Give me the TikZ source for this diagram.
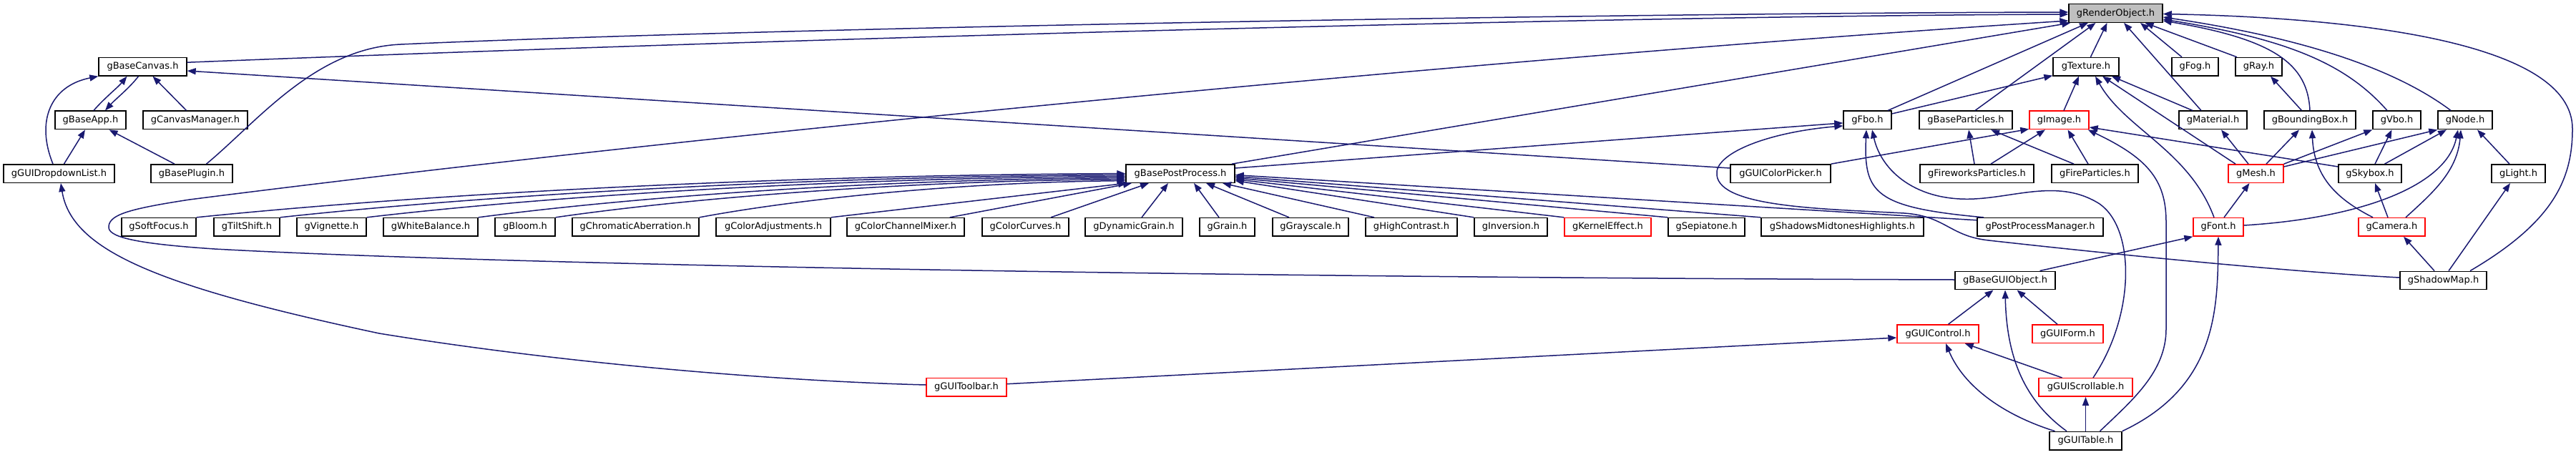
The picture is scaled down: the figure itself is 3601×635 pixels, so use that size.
\documentclass[tikz,border=0pt]{standalone}
\usepackage{fontspec}
\setmainfont{DejaVu Sans}
\usetikzlibrary{arrows.meta}
\definecolor{edgecol}{HTML}{191970}
\definecolor{redb}{HTML}{FF0000}
\definecolor{rootfill}{HTML}{BFBFBF}
\begin{document}
\begin{tikzpicture}[x=1pt,y=-1pt,
  box/.style={draw=black, line width=1.4pt, fill=white, minimum height=25.5pt, inner sep=0pt, font=\fontsize{13}{15}\selectfont},
  redbox/.style={box, draw=redb},
  edge/.style={draw=edgecol, line width=1.5pt, {Triangle[length=12pt,width=9pt]}-}]
\useasboundingbox (0,0) rectangle (3601,635);
% row 0
\node[box, fill=rootfill, minimum width=131pt] (RO) at (2957.5,18.5) {gRenderObject.h};
% row 1
\node[box, minimum width=123pt] (BC) at (199.5,93.2) {gBaseCanvas.h};
\node[box, minimum width=92pt] (TX) at (2916,93.2) {gTexture.h};
\node[box, minimum width=65pt] (FOG) at (3068.5,93.2) {gFog.h};
\node[box, minimum width=65pt] (RAY) at (3157.5,93.2) {gRay.h};
% row 2
\node[box, minimum width=99pt] (BA) at (126.5,167.9) {gBaseApp.h};
\node[box, minimum width=146pt] (CM) at (273,167.9) {gCanvasManager.h};
\node[box, minimum width=67pt] (FBO) at (2610.5,167.9) {gFbo.h};
\node[box, minimum width=130pt] (BP) at (2748,167.9) {gBaseParticles.h};
\node[redbox, minimum width=83pt] (IMG) at (2878.5,167.9) {gImage.h};
\node[box, minimum width=95pt] (MAT) at (3093.5,167.9) {gMaterial.h};
\node[box, minimum width=128pt] (BB) at (3229,167.9) {gBoundingBox.h};
\node[box, minimum width=67pt] (VBO) at (3350.5,167.9) {gVbo.h};
\node[box, minimum width=76pt] (NODE) at (3446,167.9) {gNode.h};
% row 3
\node[box, minimum width=155pt] (DD) at (82.5,242.6) {gGUIDropdownList.h};
\node[box, minimum width=114pt] (PL) at (268,242.6) {gBasePlugin.h};
\node[box, minimum width=152pt] (BPP) at (1650,242.6) {gBasePostProcess.h};
\node[box, minimum width=140pt] (CP) at (2489,242.6) {gGUIColorPicker.h};
\node[box, minimum width=159pt] (FWP) at (2763.5,242.6) {gFireworksParticles.h};
\node[box, minimum width=121pt] (FP) at (2928.5,242.6) {gFireParticles.h};
\node[redbox, minimum width=77pt] (MESH) at (3153.5,242.6) {gMesh.h};
\node[box, minimum width=88pt] (SKY) at (3313,242.6) {gSkybox.h};
\node[box, minimum width=75pt] (LIGHT) at (3520.5,242.6) {gLight.h};
% row 4
\node[box, minimum width=104pt] (SF) at (222,317.3) {gSoftFocus.h};
\node[box, minimum width=92pt] (TS) at (345,317.3) {gTiltShift.h};
\node[box, minimum width=97pt] (VIG) at (463.5,317.3) {gVignette.h};
\node[box, minimum width=132pt] (WB) at (602,317.3) {gWhiteBalance.h};
\node[box, minimum width=84pt] (BL) at (734,317.3) {gBloom.h};
\node[box, minimum width=177pt] (CA) at (888.5,317.3) {gChromaticAberration.h};
\node[box, minimum width=160pt] (CAD) at (1081,317.3) {gColorAdjustments.h};
\node[box, minimum width=164pt] (CCM) at (1266,317.3) {gColorChannelMixer.h};
\node[box, minimum width=121pt] (CC) at (1433.5,317.3) {gColorCurves.h};
\node[box, minimum width=136pt] (DG) at (1585,317.3) {gDynamicGrain.h};
\node[box, minimum width=77pt] (GR) at (1715.5,317.3) {gGrain.h};
\node[box, minimum width=106pt] (GS) at (1832,317.3) {gGrayscale.h};
\node[box, minimum width=128pt] (HC) at (1973,317.3) {gHighContrast.h};
\node[box, minimum width=102pt] (INV) at (2112,317.3) {gInversion.h};
\node[redbox, minimum width=121pt] (KE) at (2247.5,317.3) {gKernelEffect.h};
\node[box, minimum width=107pt] (SEP) at (2385.5,317.3) {gSepiatone.h};
\node[box, minimum width=227pt] (SMH) at (2575.5,317.3) {gShadowsMidtonesHighlights.h};
\node[box, minimum width=176pt] (PPM) at (2852,317.3) {gPostProcessManager.h};
\node[redbox, minimum width=70pt] (FONT) at (3101,317.3) {gFont.h};
\node[redbox, minimum width=93pt] (CAM) at (3343.5,317.3) {gCamera.h};
% row 5
\node[box, minimum width=140pt] (BGO) at (2803,392) {gBaseGUIObject.h};
\node[box, minimum width=121pt] (SM) at (3415.5,392) {gShadowMap.h};
% row 6
\node[redbox, minimum width=114pt] (GC) at (2709,466.7) {gGUIControl.h};
\node[redbox, minimum width=99pt] (GF) at (2890.5,466.7) {gGUIForm.h};
% row 7
\node[redbox, minimum width=112pt] (TB) at (1351,541.4) {gGUIToolbar.h};
\node[redbox, minimum width=131pt] (SCR) at (2915.5,541.4) {gGUIScrollable.h};
% row 8
\node[box, minimum width=101pt] (TAB) at (2915.5,616.1) {gGUITable.h};

% ---- edges into gRenderObject
\draw[edge] ([yshift=-1.5pt]RO.west) .. controls (2300,22) and (1200,50) .. ([yshift=6pt]BC.east);
\draw[edge] ([yshift=1.5pt]RO.west) .. controls (2300,18) and (1100,37.7) .. (560,62) .. controls (440,67.4) and (360,170) .. ([xshift=20.5pt]PL.north);
\draw[edge] ([yshift=3pt]RO.south west) .. controls (2100,80) and (1000,185) .. (265,279) .. controls (180,292) and (154,300) .. (152,316) .. controls (150,330) and (180,340) .. (300,348) .. controls (700,370) and (1700,388) .. ([yshift=1pt]BGO.west);
\draw[edge] ([xshift=3pt]RO.south west) -- ([xshift=72pt]BPP.north);
\draw[edge] ([xshift=-38.5pt]RO.south) -- ([xshift=28.5pt]FBO.north);
\draw[edge] ([xshift=-28pt]RO.south) -- ([xshift=13pt]BP.north);
\draw[edge] ([xshift=-12pt]RO.south) -- ([xshift=6.4pt]TX.north);
\draw[edge] ([xshift=11.5pt]RO.south) -- ([xshift=-16.5pt]MAT.north);
\draw[edge] ([xshift=34.5pt]RO.south) -- ([xshift=-18.5pt]FOG.north);
\draw[edge] ([xshift=41pt]RO.south) -- ([xshift=-30.5pt]RAY.north);
\draw[edge] ([yshift=3pt]RO.south east) .. controls (3180,55) and (3226,90) .. (BB.north);
\draw[edge] ([yshift=5pt]RO.south east) .. controls (3200,55) and (3280,90) .. ([xshift=-13.5pt]VBO.north);
\draw[edge] ([yshift=8pt]RO.south east) .. controls (3200,50) and (3340,90) .. ([xshift=-20pt]NODE.north);
\draw[edge] ([yshift=-1pt]RO.east) .. controls (3300,25) and (3596,60) .. (3596,180) .. controls (3596,250) and (3570,310) .. ([xshift=37.5pt]SM.north);

% ---- gBaseCanvas / gBaseApp
\draw[edge] ([xshift=-22pt]BC.south) .. controls (165,122) and (145,138) .. ([xshift=4.5pt]BA.north);
\draw[edge] ([xshift=20.5pt]BA.north) .. controls (160,140) and (182,122) .. ([xshift=-6pt]BC.south);
\draw[edge] ([xshift=14pt]BC.south) -- ([xshift=-12.4pt]CM.north);
\draw[edge] (BC.south west) .. controls (70,120) and (50,170) .. ([xshift=-8.5pt]DD.north);
\draw[edge] ([yshift=-5.8pt]BC.east) -- ([yshift=7.6pt]CP.west);
\draw[edge] ([xshift=-7.5pt]BA.south) -- ([xshift=7pt]DD.north);
\draw[edge] ([xshift=26pt]BA.south) -- ([xshift=-24pt]PL.north);
\draw[edge] ([xshift=2.5pt]DD.south) .. controls (100,350) and (220,400) .. (530,466) .. controls (800,510) and (1100,533) .. ([yshift=3.4pt]TB.west);
\draw[edge] ([yshift=-5.3pt]GC.west) -- ([yshift=4.7pt]TB.east);

% ---- gBasePostProcess
\draw[edge] (BPP.west) .. controls (1093,244.6) and (599,270.7) .. (SF.north east);
\draw[edge] ([yshift=-2pt]BPP.west) .. controls (1136,246.6) and (686.5,271.8) .. (TS.north east);
\draw[edge] ([yshift=-4pt]BPP.west) .. controls (1181,248.6) and (777.5,272.9) .. (VIG.north east);
\draw[edge] ([yshift=-6pt]BPP.west) .. controls (1239,250.6) and (894.5,274) .. (WB.north east);
\draw[edge] ([yshift=-8pt]BPP.west) .. controls (1279,252.6) and (975.5,275.1) .. (BL.north east);
\draw[edge] ([yshift=-10pt]BPP.west) .. controls (1353,254.6) and (1126,276.2) .. (CA.north east);
\draw[edge] ([xshift=2pt]BPP.south west) -- (CAD.north east);
\draw[edge] ([xshift=-68pt]BPP.south) -- ([xshift=61.7pt]CCM.north);
\draw[edge] ([xshift=-44pt]BPP.south) -- ([xshift=35.5pt]CC.north);
\draw[edge] ([xshift=-17pt]BPP.south) -- ([xshift=11pt]DG.north);
\draw[edge] ([xshift=19pt]BPP.south) -- ([xshift=-11.5pt]GR.north);
\draw[edge] ([xshift=36pt]BPP.south) -- ([xshift=-30pt]GS.north);
\draw[edge] ([xshift=59pt]BPP.south) -- ([xshift=-52pt]HC.north);
\draw[edge] ([yshift=-10pt]BPP.east) -- (INV.north west);
\draw[edge] ([yshift=-8pt]BPP.east) -- (KE.north west);
\draw[edge] ([yshift=-6pt]BPP.east) -- (SEP.north west);
\draw[edge] ([yshift=-4pt]BPP.east) -- (SMH.north west);
\draw[edge] ([yshift=-2pt]BPP.east) -- ([yshift=9.5pt]PPM.west);

% ---- gFbo
\draw[edge] ([yshift=-4pt]FBO.west) -- ([yshift=7.6pt]BPP.east);
\draw[edge] ([yshift=1pt]TX.south west) -- ([yshift=8.9pt]FBO.east);
\draw[edge] ([xshift=-1.5pt]FBO.south) .. controls (2605,270) and (2620,290) .. ([xshift=-79pt]PPM.north);
\draw[edge] ([xshift=6.5pt]FBO.south) .. controls (2630,240) and (2680,282) .. (2760,278) .. controls (2820,275) and (2880,250) .. (2935,285) .. controls (2985,320) and (2985,440) .. ([xshift=10.5pt]SCR.north);
\draw[edge] ([yshift=-8pt]FBO.west) .. controls (2470,185) and (2395,215) .. (2400,245) .. controls (2405,290) and (2550,292) .. (2662,298) .. controls (2720,302) and (2725,330) .. (2780,336) .. controls (2950,355) and (3200,380) .. ([yshift=4pt]SM.west);

% ---- gImage
\draw[edge] ([yshift=1pt]IMG.south west) -- (CP.north east);
\draw[edge] ([xshift=-10pt]TX.south) -- ([xshift=6.5pt]IMG.north);
\draw[edge] ([xshift=-19.5pt]IMG.south) -- ([xshift=19.5pt]FWP.north);
\draw[edge] ([xshift=12pt]IMG.south) -- ([xshift=-9.5pt]FP.north);
\draw[edge] ([yshift=-10pt]IMG.east) -- ([yshift=9.6pt]SKY.west);
\draw[edge] ([xshift=-2pt]IMG.south east) .. controls (3000,220) and (3028,250) .. (3028,310) -- (3028,460) .. controls (3028,520) and (2980,560) .. ([xshift=20pt]TAB.north);

% ---- gBaseParticles
\draw[edge] ([xshift=4pt]BP.south) -- ([xshift=-3.5pt]FWP.north);
\draw[edge] ([xshift=35pt]BP.south) -- ([xshift=-29.5pt]FP.north);

% ---- gTexture
\draw[edge] ([xshift=13pt]TX.south) .. controls (2970,180) and (3060,210) .. ([xshift=-6pt]FONT.north);
\draw[edge] ([xshift=23pt]TX.south) -- ([xshift=-28.5pt]MESH.north);
\draw[edge] ([xshift=36pt]TX.south) -- ([xshift=-28.5pt]MAT.north);

% ---- right part
\draw[edge] ([xshift=11.5pt]MAT.south) -- ([xshift=-10.5pt]MESH.north);
\draw[edge] ([xshift=-15pt]BB.south) -- ([xshift=14.5pt]MESH.north);
\draw[edge] ([xshift=3pt]BB.south) .. controls (3235,250) and (3270,280) .. ([xshift=-26.5pt]CAM.north);
\draw[edge] ([xshift=16.5pt]RAY.south) -- ([xshift=-11.5pt]BB.north);
\draw[edge] (VBO.south west) -- (MESH.north east);
\draw[edge] ([xshift=-7pt]VBO.south) -- ([xshift=7pt]SKY.north);
\draw[edge] (NODE.south west) -- ([yshift=9.6pt]MESH.east);
\draw[edge] ([xshift=-26pt]NODE.south) -- ([xshift=20.5pt]SKY.north);
\draw[edge] ([xshift=-10pt]NODE.south) .. controls (3420,260) and (3300,305) .. ([yshift=2.3pt]FONT.east);
\draw[edge] ([xshift=-6pt]NODE.south) .. controls (3435,240) and (3400,270) .. ([xshift=19.5pt]CAM.north);
\draw[edge] ([xshift=17pt]NODE.south) -- ([xshift=-12.5pt]LIGHT.north);
\draw[edge] ([xshift=-9pt]MESH.south) -- ([xshift=8pt]FONT.north);
\draw[edge] ([xshift=7pt]SKY.south) -- ([xshift=-5.5pt]CAM.north);
\draw[edge] ([xshift=16.5pt]CAM.south) -- ([xshift=-12.5pt]SM.north);
\draw[edge] ([xshift=-11.5pt]LIGHT.south) -- ([xshift=7.5pt]SM.north);
\draw[edge] (FONT.south west) -- ([xshift=48.5pt]BGO.north);
\draw[edge] (FONT.south) .. controls (3100,430) and (3100,540) .. (TAB.north east);
\draw[edge] ([xshift=-16.5pt]BGO.south) -- ([xshift=14.5pt]GC.north);
\draw[edge] (BGO.south) .. controls (2805,500) and (2830,560) .. ([xshift=-26.5pt]TAB.north);
\draw[edge] ([xshift=16.5pt]BGO.south) -- ([xshift=-14.5pt]GF.north);
\draw[edge] ([xshift=37.7pt]GC.south) -- ([xshift=-33pt]SCR.north);
\draw[edge] ([xshift=11pt]GC.south) .. controls (2745,540) and (2800,580) .. ([xshift=-43pt]TAB.north);
\draw[edge] (SCR.south) -- (TAB.north);
\end{tikzpicture}
\end{document}
